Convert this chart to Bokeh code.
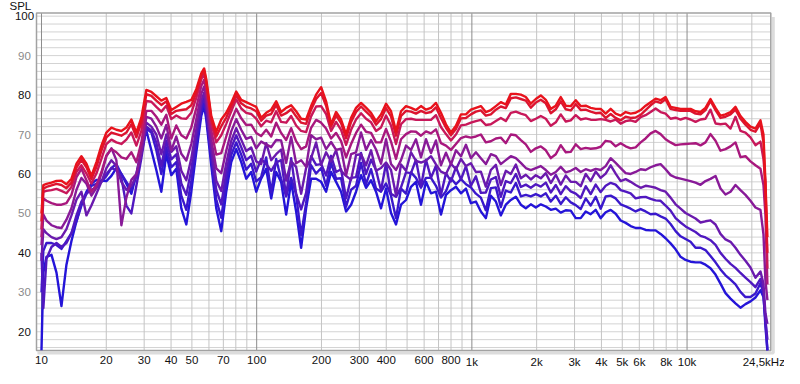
import math
from bokeh.plotting import figure
from bokeh.models import Range1d, ColumnDataSource
from bokeh.core.properties import value
from bokeh.embed import file_html
from bokeh.resources import INLINE

# ---------------- data ----------------
freq = [10.0, 10.2, 10.55, 11.13, 11.74, 12.38, 13.06, 13.78, 14.54, 15.33, 16.18, 17.06, 18.0, 18.99,
        20.03, 21.13, 22.28, 23.51, 24.8, 26.16, 27.6, 29.11, 30.71, 32.4, 34.17, 36.05,
        38.02, 40.11, 42.31, 44.64, 47.09, 49.67, 52.4, 55.27, 57.0, 58.31, 61.51, 64.89, 68.45, 72.2,
        76.17, 80.35, 84.76, 89.41, 94.3, 99.5,
        104.9, 110.7, 116.8, 123.2, 129.9, 137.1, 144.6, 152.5, 160.9, 169.7, 179.0, 188.9, 199.3, 210.2,
        221.7, 233.9, 246.7, 260.3, 274.6, 289.6, 305.5, 322.3, 340.0,
        358.6, 378.3, 399.1, 421.0, 444.1, 468.5, 494.2, 521.3, 549.9, 580.1, 612.0, 645.6, 681.0, 718.4,
        757.9, 799.5, 843.4, 889.7, 938.5, 989.5,
        1044, 1101, 1161, 1225, 1293, 1363, 1438, 1517, 1601, 1689, 1781, 1879, 1982, 2091, 2206, 2327,
        2455, 2588, 2731, 2881, 3039, 3205, 3381, 3566, 3762, 3968,
        4186, 4416, 4658, 4914, 5184, 5468, 5768, 6085, 6418, 6771, 7142, 7534, 7947, 8384, 8844, 9329,
        9840, 10380, 10950, 11550, 12180, 12850, 13560, 14300, 15090, 15920, 16790, 17710, 18680, 19710,
        20790, 21930, 22650, 23130, 23630]

spl_1 = [50, 57.2, 57.5, 57.8, 58.25, 58.3, 57.4, 58.8, 62.6, 64.5, 62.6, 59.5, 63, 67.2, 70.5, 71.75, 71.2, 70.9, 71.75, 73.8, 70.5, 74.25, 81.3, 80.8, 79.7, 78.6,
         79.25, 76.2, 77, 77.8, 78.25, 78.75, 81.5, 85.5, 86.75, 84, 74.7, 70.7, 73.8, 75.5, 78, 80.9, 78.8, 78.2, 77.6, 77,
         74.25, 75.5, 76.3, 78.4, 75.7, 76.75, 77.4, 75.9, 74, 73.8, 77.2, 80.1, 82, 78.4, 72.6, 75.7, 73.8, 70.1, 74.25, 76.75, 78, 76.8, 75.5,
         73.4, 75.1, 77.8, 75.9, 70.9, 75.9, 77.2, 76.75, 76.2, 77.2, 76.3, 76.75, 78, 75.5, 72.6, 70.5, 72.2, 75.1, 75.1, 76.3,
         76.75, 77.2, 75.7, 76.2, 77.2, 78.2, 77.6, 80.3, 80.3, 80.1, 79.5, 77.8, 79, 79.9, 78.8, 76.5, 77.3, 79.5, 77.3, 77.2, 78.7, 77.2, 77.3, 76.75, 76.5, 76.5,
         75.3, 76.5, 75.3, 74.8, 75.7, 75.3, 75.5, 76.2, 77.3, 78.2, 79.1, 78.7, 79.5, 77, 76.75, 76.5, 76.5, 76.5, 75.9, 75.7, 76.75, 79, 76.75, 74.8, 75.1, 75.7, 77, 74.7, 73.2, 72, 71.5, 73.6, 70, 58, 44]

spl_2 = [48, 56.3, 56.7, 57.1, 57.5, 57.2, 56.4, 57.8, 61.6, 63.6, 61.7, 58.7, 61.8, 65.9, 69.3, 70.5, 70.1, 69.7, 70.5, 72.6, 69.3, 73, 80.2, 79.8, 78.6, 77.5,
         78.4, 75.2, 76, 76.2, 76.4, 77.4, 80.5, 84.9, 86.2, 83.4, 74, 69.5, 72.1, 74.3, 77.1, 80, 77.9, 77, 76.6, 75.9,
         73.5, 74.8, 75.2, 77.5, 74.8, 75.4, 76.4, 74.6, 73, 72.7, 76.3, 79, 80.5, 77.3, 72, 74.8, 72.9, 69.1, 73.2, 75.7, 77.1, 75.8, 74.6,
         72.5, 73.9, 76.7, 74.6, 69.7, 74.7, 76, 75.8, 75.3, 76, 75.4, 75.7, 76.9, 74.2, 71.7, 69.8, 71.4, 74.1, 74.2, 75.1,
         75.8, 76.1, 74.8, 75.1, 76.3, 77.1, 76.7, 79.2, 79.4, 79, 78.6, 76.8, 78.1, 78.8, 77.9, 75.4, 76.4, 78.4, 76.4, 76.1, 77.7, 76.2, 76.3, 75.8, 75.4, 75.5,
         74.2, 75.2, 74.2, 73.6, 74.5, 74.2, 74.3, 75, 76.2, 77.4, 78.4, 78, 78.9, 76.5, 76.2, 76, 76, 76, 75.3, 75.1, 76.2, 78.5, 76.2, 74.2, 74.5, 75.1, 76.3, 74, 72.5, 71.2, 70.7, 72.8, 68, 55, 40]

spl_3 = [46, 55.5, 55.7, 55.9, 56.2, 55.7, 55.1, 56.7, 60.5, 62.2, 60.1, 57.6, 60.1, 63.8, 67.6, 68.7, 68, 67.6, 68.7, 70.5, 67.2, 70.9, 78.5, 78.3, 77, 75.8,
         77.3, 73.9, 74.8, 74.1, 74, 75.5, 79.3, 84, 85.4, 82.6, 73, 68, 69.8, 72.7, 75.9, 78.9, 76.6, 75.5, 75.2, 74,
         72.1, 73.5, 73.1, 75.9, 73.2, 73, 74.7, 72.3, 70.9, 70.6, 74.6, 77.1, 77.2, 75.2, 70.9, 73.2, 71.2, 67.4, 71.2, 73.8, 75.4, 74, 73.1,
         70.9, 71.8, 74.8, 72.3, 67.6, 72.6, 73.9, 74, 73.7, 73.7, 73.7, 73.7, 74.9, 71.9, 70.1, 68.5, 70, 72.3, 72.5, 73,
         73.4, 73.7, 72.4, 72.6, 73.4, 74.2, 73.4, 75.5, 75.8, 75.3, 74.9, 73.4, 74, 74.7, 74, 72.2, 73.1, 75.1, 73.3, 73.6, 74.9, 73.8, 74.1, 73.75, 73.7, 73.9,
         73.7, 73.3, 73.8, 72.75, 73.4, 73.6, 73.2, 74.4, 74.9, 75.7, 76.6, 75.7, 75.3, 74, 74.25, 73.8, 74.2, 73.8, 73.2, 73.8, 74, 76.3, 72.8, 72.6, 72.75, 71.5, 74.5, 70.9, 70.5, 69.25, 67.3, 68.2, 63.8, 58, 36]

spl_4 = [44, 53.8, 53.2, 52.6, 52.2, 52.2, 52.6, 54.7, 59.2, 61.3, 58.4, 55.5, 57.2, 60.5, 64.7, 66.3, 65.5, 64.2, 63.8, 65.5, 63, 68, 76, 76, 74.5, 72.5,
         75, 69, 72.3, 69.8, 69, 71.8, 76.7, 82.3, 83.9, 80.9, 71, 64.9, 65.3, 69.5, 73.5, 76.5, 74.1, 72.4, 72.5, 70.4,
         69.6, 71.2, 69.5, 73, 70.4, 68.6, 71.6, 68.3, 66.3, 67, 71.7, 73.7, 73, 71.5, 69, 70.4, 68.3, 64.2, 67.6, 70.4, 72.5, 70.7, 70.4,
         68, 68, 71.4, 68.2, 63.8, 68.8, 70.1, 70.8, 70.7, 69.7, 70.8, 70.3, 71.3, 67.8, 67.2, 66.1, 67.6, 69.1, 69.5, 69.2,
         69.5, 70, 68, 68.3, 69, 69.2, 67.8, 70, 69.8, 68.6, 67.5, 65.6, 66.5, 67, 66, 64, 65, 67.3, 65.5, 65.6, 67.5, 66.3, 66.6, 66.4, 66.5, 66.9,
         68.4, 68.2, 67, 67.8, 67, 66.5, 66.75, 68, 69, 70.3, 70.9, 70.1, 68.8, 68, 67.3, 67.5, 67.6, 67.7, 67.8, 67.25, 68, 70.1, 68.4, 65.9, 66.3, 67, 68, 64.25, 64.5, 63.2, 62.2, 61.3, 57.2, 49.7, 32]

spl_5 = [42, 49.7, 48.2, 47, 46.5, 46.3, 48.4, 51.3, 56, 59, 57.5, 54.5, 56.5, 60, 64.5, 66.5, 63.5, 47, 54, 58.5, 60, 66, 74.5, 74, 72, 69,
         72.4, 66, 69.5, 65.1, 63.4, 67.6, 73.8, 80.3, 82.2, 79.1, 68.7, 61.4, 60.2, 65.9, 70.8, 73.9, 71.2, 68.9, 69.4, 66.5,
         68.2, 67.5, 66.8, 68.6, 68.5, 62.8, 69.4, 62.7, 63.5, 61.8, 69.8, 68.8, 69.2, 66.3, 68.1, 66.1, 66.4, 59.7, 65, 65.5, 70.5, 66.1, 68.6,
         66.2, 62.6, 68.8, 62.5, 61, 63.5, 67.2, 66.1, 68.8, 64.2, 68.8, 65.3, 68.5, 62.2, 65.4, 62.4, 66, 64.5, 67.4, 64,
         65.5, 64, 62.5, 65, 64.5, 62.5, 63.5, 64.5, 64, 62.8, 61.5, 61, 61.5, 62, 61, 59.8, 60.5, 61.8, 60.4, 60.8, 61.5, 60.5, 61.2, 60.8, 61.3, 61,
         62, 64, 62.8, 61.5, 60.2, 60, 60.5, 61.2, 61, 61.7, 62.2, 62.5, 61.2, 59.7, 59.1, 58.8, 58.5, 58.2, 57.8, 57.25, 58.2, 58.75, 59.5, 56.3, 54.8, 55.5, 57.2, 55.9, 54.7, 53.2, 51.5, 50.9, 44.7, 33, 28]

spl_6 = [38, 46, 45, 44, 43.5, 44, 46, 49.5, 53.5, 55.5, 49.5, 52, 55, 58, 61.5, 63.5, 62, 58, 56, 57, 59.5, 65, 73, 72, 70, 65,
         70, 65.6, 67, 60.8, 58.4, 63.9, 71.3, 78.6, 80.6, 77.5, 66.7, 58.3, 55.7, 62.7, 68.4, 71.6, 68.7, 65.8, 66.7, 63.2,
         62.5, 67.8, 63.5, 65, 66.2, 58.3, 63.2, 61.8, 55, 61.5, 64, 68, 62.3, 65.5, 63.2, 66, 60.8, 59.5, 58.5, 64.8, 65, 62.2, 66,
         60.8, 61.5, 62.9, 61, 54.6, 62.4, 60.8, 65.5, 63.3, 62.9, 63.4, 64.5, 62.4, 60.6, 60, 62.6, 61.2, 63.8, 62, 62.7,
         60.5, 60.6, 56.8, 61, 62.3, 57.2, 60.8, 60, 62.4, 58.9, 59.8, 58.6, 59.7, 58.9, 60.2, 57.7, 59.8, 57.3, 59.6, 58, 58, 56.9, 60, 58.2, 60.6, 59,
         60.1, 62.2, 60.1, 58.2, 58.7, 58, 57.2, 56.5, 57, 56.8, 56.5, 55.9, 55.5, 54, 52.3, 51.2, 50.1, 49.4, 48.7, 47.7, 48, 48.25, 47.2, 44.8, 43.4, 42.8, 41.3, 39.5, 38, 36.3, 33.7, 35.3, 32.2, 24.7, 22]

spl_7 = [40, 26, 38.5, 41.5, 42.5, 41.5, 42.5, 45, 49.5, 53, 55, 56, 56.5, 58, 60, 61.5, 61, 59, 52, 50, 57, 64, 72, 71, 68, 62,
         68.4, 63.7, 65, 57.6, 54.7, 61.1, 69.3, 77.3, 79.5, 76.2, 65.2, 56, 52.3, 60.3, 66.6, 69.8, 66.8, 63.5, 64.6, 60.6,
         63.8, 62.5, 60.8, 62.9, 63.5, 54.5, 64, 55, 51, 55.2, 64.5, 62.3, 62.5, 59.6, 64.6, 60.5, 61.2, 53.8, 59, 59.2, 65.3, 60, 63.6,
         61, 55.8, 62.7, 55, 54.2, 56.6, 60.4, 60.2, 63.6, 56.9, 63.6, 59, 62.1, 54.7, 60.2, 58.1, 61.7, 58.6, 62, 57,
         59.4, 55.2, 55.3, 58.6, 59.2, 54.2, 58.2, 57.7, 60, 56.7, 57.3, 56.5, 57.4, 56.8, 57.8, 55.3, 57.2, 54.9, 56.9, 55.6, 55, 53.9, 56.9, 54.9, 57.3, 55.4,
         57, 57.75, 57.3, 55.9, 55.5, 55.1, 53.8, 54.1, 54.2, 53.7, 53.3, 53.2, 52, 50.7, 48.8, 47.7, 46.7, 46, 45.3, 44.3, 43.9, 43.2, 42, 40, 38.5, 37.2, 36.2, 34.9, 33.7, 32.6, 31.3, 33.4, 30.5, 23, 18]

spl_8 = [30, 40.5, 42.5, 42.5, 42, 41, 43, 45, 48, 52, 55, 57, 57.5, 58, 59.5, 61.5, 62.5, 60, 58, 56, 59.5, 65, 71.5, 70.5, 66, 60,
         66.7, 61.7, 63, 54.5, 50.9, 58.3, 67.4, 76, 78.3, 75, 63.7, 53.6, 48.9, 57.9, 64.8, 68, 64.9, 61.1, 62.6, 58.1,
         59.2, 64.2, 55.3, 63.8, 58.7, 54.3, 59, 54.8, 44.5, 52.6, 62.2, 60.1, 61.5, 57, 62.8, 58.8, 58.9, 51.7, 56, 57, 62.8, 57.4, 61.2,
         56.3, 55.5, 57.6, 54.5, 48.8, 56.3, 55, 60.4, 59, 56.5, 59, 59, 57, 54, 55.6, 58.9, 57.4, 58.7, 57.4, 56.6,
         55, 54, 50.8, 56.4, 56.6, 51.6, 55.8, 55.3, 57.7, 54.3, 54.7, 54.3, 54.9, 54.3, 55.1, 53, 54.5, 52.4, 54.1, 52.8, 52.1, 51.1, 53.8, 52, 54.2, 51.2,
         54.3, 54.5, 53.8, 52.3, 51.8, 51.2, 50.5, 51.1, 50.5, 49.8, 49.9, 49.25, 48.7, 47.3, 45.5, 44.2, 43.5, 42.8, 41.3, 41.3, 40.7, 39.2, 37.6, 35.8, 34.3, 33.2, 32, 30.1, 28.8, 28.8, 29.7, 32.3, 29.7, 21.3, 15.3]

spl_9 = [15.3, 35, 39, 39.5, 35, 26.5, 37, 43, 48, 52.5, 55.5, 57.5, 58.5, 58.3, 58.2, 59.5, 61.5, 60, 57.5, 55, 60, 66, 71, 66, 61, 55.5,
         65, 59.7, 61.3, 51.3, 47.2, 55.5, 65.5, 74.7, 77.2, 73.8, 62.2, 51.3, 45.5, 55.5, 63, 66.3, 63, 58.8, 60.5, 55.5,
         58.8, 61.3, 53.8, 60.5, 58, 49.7, 58, 50.5, 41.3, 51.3, 58.8, 58.8, 58, 55.5, 60.5, 58, 55.5, 50.5, 52.2, 55.5, 59.7, 56.5, 58.4,
         55.5, 51.3, 56.3, 50.1, 47.2, 52.2, 53.4, 56.75, 58, 52.2, 58, 55.1, 55.5, 49.7, 54.7, 55.9, 56.75, 55.1, 56.3, 52.6,
         53, 50.5, 48.8, 54.5, 53, 49.5, 52.2, 53.4, 54.25, 52.2, 51.3, 52.3, 51.5, 52.3, 51.75, 50.9, 51.2, 50.2, 50.8, 50.7, 48.8, 48.8, 50.5, 49.8, 50.9, 48.8,
         50.3, 50.9, 49.9, 48.2, 47.6, 46.8, 46.3, 46.3, 45.8, 45.7, 45.7, 44.8, 43.7, 42.4, 40.9, 39, 38.2, 37.75, 37.6, 37.6, 37, 36.1, 34.5, 32.2, 29.8, 28.4, 27.2, 26.1, 27, 27.7, 28.7, 30.5, 28.8, 23, 15.3]

curves = [spl_1, spl_2, spl_3, spl_4, spl_5, spl_6, spl_7, spl_8, spl_9]
curve_colors = ["#e8121c", "#dc1430", "#c8185a", "#a8187e", "#881a98",
                "#6a1aae", "#5018c0", "#3a18cc", "#2414d8"]

x_ticks = [10, 20, 30, 40, 50, 70, 100, 200, 300, 400, 600, 800, 1000, 2000, 3000,
           4000, 5000, 6000, 8000, 10000]
x_tick_text = ["10", "20", "30", "40", "50", "70", "100", "200", "300", "400", "600",
               "800", "1k", "2k", "3k", "4k", "5k", "6k", "8k", "10k"]
x_end_tick = [24500]
x_end_text = ["24,5kHz"]
x_minor_grid = [20, 30, 40, 50, 60, 70, 80, 90, 200, 300, 400, 500, 600, 700, 800, 900,
                2000, 3000, 4000, 5000, 6000, 7000, 8000, 9000, 20000]
x_major_grid = [10, 100, 1000, 10000]
y_ticks = [100, 90, 80, 70, 60, 50, 40, 30, 20]
y_tick_text = ["100", "90", "80", "70", "60", "50", "40", "30", "20"]
y_tick_colors = ["#111111", "#8a8a8a", "#111111", "#8a8a8a", "#111111",
                 "#8a8a8a", "#111111", "#8a8a8a", "#111111"]
y_grid = [16, 18, 20, 22, 24, 26, 28, 30, 32, 34, 36, 38, 40, 42, 44, 46, 48, 50,
          52, 54, 56, 58, 60, 62, 64, 66, 68, 70, 72, 74, 76, 78, 80, 82, 84, 86,
          88, 90, 92, 94, 96, 98, 100]
y_title = "SPL"

# plot-area limits (data units) and the canvas that surrounds them
X_START, X_END = 9.48, 24500
Y_START, Y_END = 15.25, 100.8
W, H = 784, 368
LEFT_PX, RIGHT_PX, TOP_PX, BOTTOM_PX = 36.0, 770.3, 12.5, 350.0
px_per_decade = (RIGHT_PX - LEFT_PX) / math.log10(X_END / X_START)
px_per_db = (BOTTOM_PX - TOP_PX) / (Y_END - Y_START)
CX0 = X_START / 10 ** (LEFT_PX / px_per_decade)
CX1 = X_END * 10 ** ((W - RIGHT_PX) / px_per_decade)
CY1 = Y_END + TOP_PX / px_per_db
CY0 = Y_START - (H - BOTTOM_PX) / px_per_db
FONT = "Liberation Sans"
FS = "11.5px"

p = figure(width=W, height=H, x_axis_type="log", x_axis_location=None, y_axis_location=None,
           x_range=Range1d(CX0, CX1), y_range=Range1d(CY0, CY1),
           output_backend="svg", toolbar_location=None,
           min_border_left=0, min_border_right=0, min_border_top=0, min_border_bottom=0)
p.background_fill_color = "white"
p.border_fill_color = "white"
p.outline_line_color = None
p.grid.visible = False

# grid lines of the plot area
p.segment(x0=[X_START] * len(y_grid), y0=y_grid, x1=[X_END] * len(y_grid), y1=y_grid,
          line_color="#d3d3d3", line_width=1)
p.segment(x0=x_minor_grid, y0=[Y_START] * len(x_minor_grid), x1=x_minor_grid,
          y1=[Y_END] * len(x_minor_grid), line_color="#c4c4c4", line_width=1)
p.segment(x0=x_major_grid, y0=[Y_START] * len(x_major_grid), x1=x_major_grid,
          y1=[Y_END] * len(x_major_grid), line_color="#8c8c8c", line_width=1)

# frame with a soft shadow on the right and bottom
sh = 10 ** (2.5 / px_per_decade)
p.line([X_START * 1.01, X_END * sh, X_END * sh], [Y_START - 2.5 / px_per_db] * 2 + [Y_END - 1.0],
       line_color="#dcdcdc", line_width=3)
p.quad(left=[X_START], right=[X_END], bottom=[Y_START], top=[Y_END],
       fill_color=None, line_color="#a2a2a2", line_width=1.5)

# curves (blue first, red on top)
for spl, col in reversed(list(zip(curves, curve_colors))):
    n = min(len(freq), len(spl))
    p.line(freq[:n], spl[:n], line_color=col, line_width=2.4, line_join="round")

# tick labels
p.text(x=x_ticks, y=[Y_START] * len(x_ticks), text=x_tick_text, y_offset=5,
       text_align="center", text_baseline="top", text_font=value(FONT),
       text_font_size=value(FS), text_color="#111111")
p.text(x=x_end_tick, y=[Y_START], text=x_end_text, x_offset=-7, y_offset=5,
       text_align="center", text_baseline="top", text_font=value(FONT),
       text_font_size=value(FS), text_color="#111111")
ysrc = ColumnDataSource(dict(x=[X_START] * len(y_ticks), y=y_ticks, text=y_tick_text,
                             color=y_tick_colors))
p.text(x="x", y="y", text="text", source=ysrc, x_offset=-12, text_align="center",
       text_baseline="middle", text_font=value(FONT), text_font_size=value(FS),
       text_color="color")
p.text(x=[X_START], y=[Y_END], text=[y_title], x_offset=-27, y_offset=-1,
       text_align="left", text_baseline="bottom", text_font=value(FONT),
       text_font_size=value(FS), text_color="#111111")

open("out.html", "w").write(file_html(p, INLINE))
